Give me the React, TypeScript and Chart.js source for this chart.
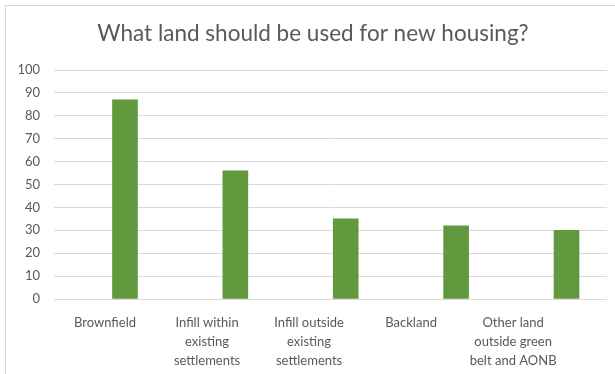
import React, { useEffect, useRef } from "react";
import { Chart, registerables } from "chart.js";

Chart.register(...registerables);

const title = "What land should be used for new housing?";
const categories: string[][] = [
  ["Brownfield"],
  ["Infill within", "existing", "settlements"],
  ["Infill outside", "existing", "settlements"],
  ["Backland"],
  ["Other land", "outside green", "belt and AONB"],
];
const values = [87, 56, 35, 32, 30];
const yMin = 0;
const yMax = 100;
const yStep = 10;

const TEXT = "#595959";
const GRID = "#d9d9d9";
const BAR = "#62993e";
const FONT = "Lato, 'Open Sans', sans-serif";

export default function App() {
  const ref = useRef<HTMLCanvasElement | null>(null);
  useEffect(() => {
    if (!ref.current) return;
    const chart = new Chart(ref.current, {
      type: "bar",
      data: {
        datasets: [
          {
            data: values.map((v, i) => ({ x: i, y: v })),
            backgroundColor: BAR,
            borderWidth: 0,
            barThickness: 25,
            xAxisID: "x",
            yAxisID: "y",
          },
        ],
      },
      options: {
        responsive: false,
        animation: false,
        layout: { padding: { left: 19, right: 8, top: 0, bottom: 0 } },
        plugins: {
          legend: { display: false },
          tooltip: { enabled: false },
          title: {
            display: true,
            text: title,
            color: TEXT,
            font: { family: FONT, size: 22.5, weight: "normal" },
            padding: { top: 20, bottom: 23 },
          },
        },
        scales: {
          x: {
            type: "linear",
            display: false,
            offset: false,
            min: -0.643,
            max: 4.367,
          },
          xLabels: {
            type: "linear",
            position: "bottom",
            offset: false,
            min: -0.5,
            max: 4.92,
            grid: { display: false, offset: false },
            border: { display: false },
            afterBuildTicks: (scale: any) => {
              scale.ticks = categories.map((_, i) => ({ value: i }));
            },
            afterFit: (scale: any) => {
              scale.height = 75;
            },
            ticks: {
              autoSkip: false,
              maxRotation: 0,
              minRotation: 0,
              padding: 6,
              color: TEXT,
              font: { family: FONT, size: 13, lineHeight: 1.46 },
              callback: (v: any) => categories[Math.round(Number(v))] ?? "",
            },
          },
          y: {
            type: "linear",
            min: yMin,
            max: yMax,
            afterFit: (scale: any) => {
              scale.width = 35;
            },
            grid: { color: GRID, drawTicks: false, lineWidth: 1 },
            border: { display: false },
            ticks: {
              stepSize: yStep,
              padding: 14,
              color: TEXT,
              font: { family: FONT, size: 13 },
            },
          },
        },
      },
    } as any);
    return () => chart.destroy();
  }, []);

  return (
    <div style={{ position: "absolute", left: 0, top: 0, width: 615, height: 374, background: "#fff" }}>
      <div
        style={{
          position: "absolute",
          left: 5,
          top: 5,
          width: 615,
          height: 374,
          borderTop: `1px solid ${GRID}`,
          borderLeft: `1px solid ${GRID}`,
          pointerEvents: "none",
        }}
      />
      <canvas ref={ref} width={615} height={374} style={{ position: "absolute", left: 0, top: 0, display: "block" }} />
    </div>
  );
}
